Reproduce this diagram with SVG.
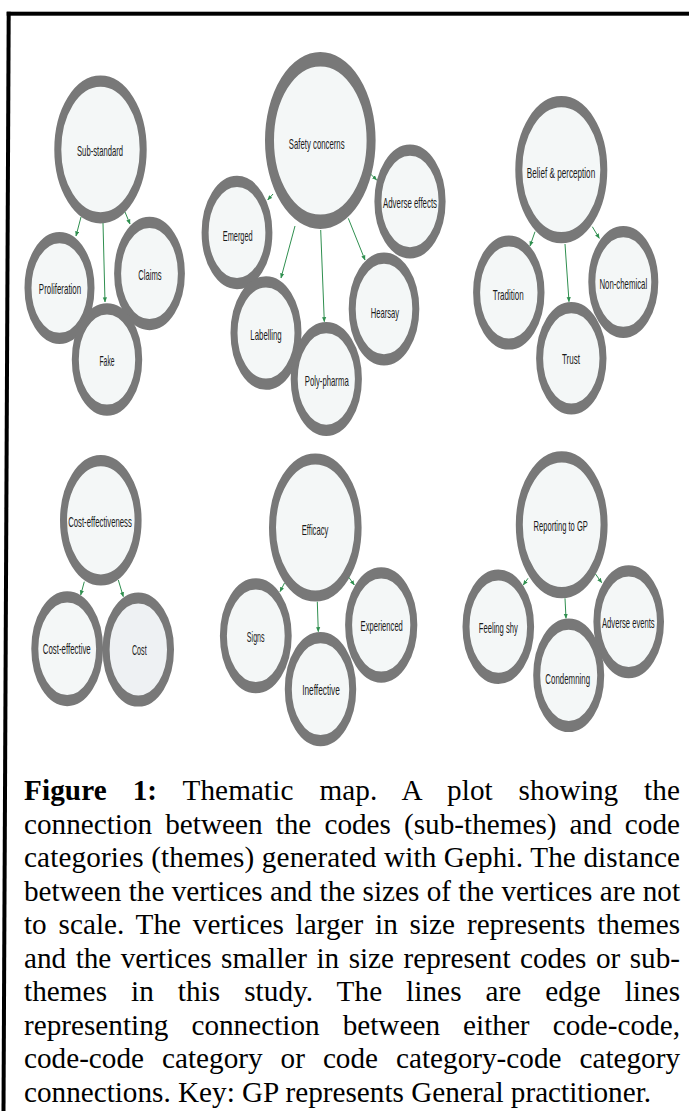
<svg xmlns="http://www.w3.org/2000/svg" width="689" height="1111" viewBox="0 0 689 1111">
<defs>
<style>
.ring{fill:#f4f7f7;stroke:#787878;stroke-width:7}
.big{stroke-width:9}
.lbl{font-family:"Liberation Sans",Arial,sans-serif;font-size:8.6px;fill:#1a1a1a;text-anchor:middle;dominant-baseline:central}
.edge{stroke:#2f8f4f;stroke-width:1;fill:none;marker-end:url(#ah)}
.cap{font-family:"Liberation Serif","Times New Roman",serif;font-size:29.2px;fill:#000}
</style>
<marker id="ah" viewBox="0 0 6 6" refX="5.5" refY="3" markerWidth="5" markerHeight="5" orient="auto" markerUnits="userSpaceOnUse">
<path d="M0,0.5 L6,3 L0,5.5 z" fill="#2f8f4f"/>
</marker>
</defs>
<rect width="689" height="1111" fill="#fff"/>
<g id="frame" fill="#000">
<rect x="6.7" y="11.7" width="682.3" height="4"/>
<polygon points="6.7,11.7 10.7,11.7 5.5,1111 1.5,1111"/>
</g>

<g id="node-sub-standard"><circle class="ring" r="42.7" transform="translate(100.5,149.5) scale(1,1.6)"/><text class="lbl" textLength="46" lengthAdjust="spacingAndGlyphs" transform="translate(100,151) scale(1,1.6)">Sub-standard</text></g>
<g id="node-proliferation"><circle class="ring" r="31.5" transform="translate(59.5,288) scale(1,1.6)"/><text class="lbl" textLength="42.3" lengthAdjust="spacingAndGlyphs" transform="translate(60,289) scale(1,1.6)">Proliferation</text></g>
<g id="node-claims"><circle class="ring" r="31.9" transform="translate(149.5,273.5) scale(1,1.6)"/><text class="lbl" textLength="23.3" lengthAdjust="spacingAndGlyphs" transform="translate(150,275) scale(1,1.6)">Claims</text></g>
<g id="node-fake"><circle class="ring" r="31.7" transform="translate(107,359.5) scale(1,1.6)"/><text class="lbl" textLength="15" lengthAdjust="spacingAndGlyphs" transform="translate(107,361) scale(1,1.6)">Fake</text></g>

<g id="node-safety-concerns"><circle class="ring big" r="50.8" transform="translate(320.3,140.5) scale(1,1.6)"/><text class="lbl" textLength="55.7" lengthAdjust="spacingAndGlyphs" transform="translate(316.7,144) scale(1,1.6)">Safety concerns</text></g>
<g id="node-emerged"><circle class="ring" r="31.9" transform="translate(237,232.5) scale(1,1.6)"/><text class="lbl" textLength="30" lengthAdjust="spacingAndGlyphs" transform="translate(237.7,236.7) scale(1,1.6)">Emerged</text></g>
<g id="node-adverse-effects"><circle class="ring" r="32.1" transform="translate(410,201.5) scale(1,1.6)"/><text class="lbl" textLength="54" lengthAdjust="spacingAndGlyphs" transform="translate(410,203) scale(1,1.6)">Adverse effects</text></g>
<g id="node-hearsay"><circle class="ring" r="31.8" transform="translate(384,309) scale(1,1.6)"/><text class="lbl" textLength="28.3" lengthAdjust="spacingAndGlyphs" transform="translate(385,313) scale(1,1.6)">Hearsay</text></g>
<g id="node-labelling"><circle class="ring" r="32" transform="translate(266,333) scale(1,1.6)"/><text class="lbl" textLength="31.3" lengthAdjust="spacingAndGlyphs" transform="translate(266,335) scale(1,1.6)">Labelling</text></g>
<g id="node-poly-pharma"><circle class="ring" r="32.1" transform="translate(326.3,379) scale(1,1.6)"/><text class="lbl" textLength="44" lengthAdjust="spacingAndGlyphs" transform="translate(326.7,381.7) scale(1,1.6)">Poly-pharma</text></g>

<g id="node-belief-perception"><circle class="ring" r="42.5" transform="translate(561.3,169.7) scale(1,1.6)"/><text class="lbl" textLength="68.3" lengthAdjust="spacingAndGlyphs" transform="translate(561,173.3) scale(1,1.6)">Belief &amp; perception</text></g>
<g id="node-tradition"><circle class="ring" r="32.2" transform="translate(508.8,292.5) scale(1,1.6)"/><text class="lbl" textLength="31" lengthAdjust="spacingAndGlyphs" transform="translate(508.3,295) scale(1,1.6)">Tradition</text></g>
<g id="node-non-chemical"><circle class="ring" r="31.5" transform="translate(623.3,282) scale(1,1.6)"/><text class="lbl" textLength="47.7" lengthAdjust="spacingAndGlyphs" transform="translate(623.3,284) scale(1,1.6)">Non-chemical</text></g>
<g id="node-trust"><circle class="ring" r="31.7" transform="translate(571.3,358.3) scale(1,1.6)"/><text class="lbl" textLength="18" lengthAdjust="spacingAndGlyphs" transform="translate(571,359.3) scale(1,1.6)">Trust</text></g>

<g id="node-cost-effectiveness"><circle class="ring" r="37.3" transform="translate(100.8,520.3) scale(1,1.6)"/><text class="lbl" textLength="63.7" lengthAdjust="spacingAndGlyphs" transform="translate(100,522.3) scale(1,1.6)">Cost-effectiveness</text></g>
<g id="node-cost-effective"><circle class="ring" r="32.4" transform="translate(67.2,648.7) scale(1,1.6)"/><text class="lbl" textLength="48" lengthAdjust="spacingAndGlyphs" transform="translate(66.7,649.3) scale(1,1.6)">Cost-effective</text></g>
<g id="node-cost"><circle class="ring" r="32.2" style="fill:#eef1f3" transform="translate(138.3,649.5) scale(1,1.6)"/><text class="lbl" textLength="14.7" lengthAdjust="spacingAndGlyphs" transform="translate(139.3,650.7) scale(1,1.6)">Cost</text></g>

<g id="node-efficacy"><circle class="ring" r="42.8" transform="translate(315.3,527.5) scale(1,1.6)"/><text class="lbl" textLength="26.7" lengthAdjust="spacingAndGlyphs" transform="translate(315,530) scale(1,1.6)">Efficacy</text></g>
<g id="node-signs"><circle class="ring" r="32.4" transform="translate(255.8,635.8) scale(1,1.6)"/><text class="lbl" textLength="17.7" lengthAdjust="spacingAndGlyphs" transform="translate(255.7,637.3) scale(1,1.6)">Signs</text></g>
<g id="node-experienced"><circle class="ring" r="32.6" transform="translate(381.2,625) scale(1,1.6)"/><text class="lbl" textLength="42.3" lengthAdjust="spacingAndGlyphs" transform="translate(381.7,626.7) scale(1,1.6)">Experienced</text></g>
<g id="node-ineffective"><circle class="ring" r="32.2" transform="translate(320.5,689.2) scale(1,1.6)"/><text class="lbl" textLength="37.7" lengthAdjust="spacingAndGlyphs" transform="translate(321,690) scale(1,1.6)">Ineffective</text></g>

<g id="node-reporting-to-gp"><circle class="ring" r="42.4" transform="translate(561.7,524.7) scale(1,1.6)"/><text class="lbl" textLength="54.3" lengthAdjust="spacingAndGlyphs" transform="translate(560.7,526.7) scale(1,1.6)">Reporting to GP</text></g>
<g id="node-feeling-shy"><circle class="ring" r="32.3" transform="translate(498.3,626.7) scale(1,1.6)"/><text class="lbl" textLength="39" lengthAdjust="spacingAndGlyphs" transform="translate(498.3,628.3) scale(1,1.6)">Feeling shy</text></g>
<g id="node-adverse-events"><circle class="ring" r="31.8" transform="translate(628.7,621.7) scale(1,1.6)"/><text class="lbl" textLength="52.7" lengthAdjust="spacingAndGlyphs" transform="translate(628.3,623.3) scale(1,1.6)">Adverse events</text></g>
<g id="node-condemning"><circle class="ring" r="32" transform="translate(568.7,675.3) scale(1,1.6)"/><text class="lbl" textLength="44.7" lengthAdjust="spacingAndGlyphs" transform="translate(567.7,679) scale(1,1.6)">Condemning</text></g>

<g id="connectors">
<line class="edge" x1="81" y1="217" x2="76" y2="236"/>
<line class="edge" x1="103" y1="223" x2="105" y2="302"/>
<line class="edge" x1="125" y1="212" x2="130" y2="224"/>
<line class="edge" x1="273" y1="194" x2="267.7" y2="200"/>
<line class="edge" x1="295" y1="226" x2="281" y2="278"/>
<line class="edge" x1="320.7" y1="230" x2="324.3" y2="321.7"/>
<line class="edge" x1="348.3" y1="218.3" x2="365" y2="260"/>
<line class="edge" x1="370.5" y1="174" x2="376.7" y2="180"/>
<line class="edge" x1="535" y1="231.7" x2="530" y2="246"/>
<line class="edge" x1="565" y1="244" x2="569" y2="301.7"/>
<line class="edge" x1="592.3" y1="226.7" x2="599.3" y2="238.3"/>
<line class="edge" x1="84.3" y1="581.7" x2="80.7" y2="595"/>
<line class="edge" x1="118.3" y1="580" x2="123.3" y2="596.7"/>
<line class="edge" x1="284.5" y1="583" x2="280" y2="591.7"/>
<line class="edge" x1="317.3" y1="601.7" x2="318.3" y2="631.7"/>
<line class="edge" x1="348.8" y1="577.3" x2="354.3" y2="585"/>
<line class="edge" x1="528" y1="578.3" x2="523.3" y2="585"/>
<line class="edge" x1="565" y1="598.3" x2="566" y2="618.3"/>
<line class="edge" x1="595.5" y1="574" x2="601.7" y2="582.7"/>
</g>

<g id="caption" class="cap">
<text x="24" y="800" word-spacing="18.4" textLength="656" lengthAdjust="spacing"><tspan font-weight="bold">Figure 1:</tspan> Thematic map. A plot showing the</text>
<text x="24" y="833.5" word-spacing="5.8" textLength="656" lengthAdjust="spacing">connection between the codes (sub-themes) and code</text>
<text x="24" y="867" textLength="656" lengthAdjust="spacing">categories (themes) generated with Gephi. The distance</text>
<text x="24" y="900.5" textLength="656" lengthAdjust="spacing">between the vertices and the sizes of the vertices are not</text>
<text x="24" y="934" word-spacing="4.5" textLength="656" lengthAdjust="spacing">to scale. The vertices larger in size represents themes</text>
<text x="24" y="967.5" word-spacing="2.2" textLength="656" lengthAdjust="spacing">and the vertices smaller in size represent codes or sub-</text>
<text x="24" y="1001" word-spacing="16.6" textLength="656" lengthAdjust="spacing">themes in this study. The lines are edge lines</text>
<text x="24" y="1034.5" word-spacing="15.8" textLength="656" lengthAdjust="spacing">representing connection between either code-code,</text>
<text x="24" y="1068" word-spacing="10.7" textLength="656" lengthAdjust="spacing">code-code category or code category-code category</text>
<text x="24" y="1101.5">connections. Key: GP represents General practitioner.</text>
</g>
</svg>
